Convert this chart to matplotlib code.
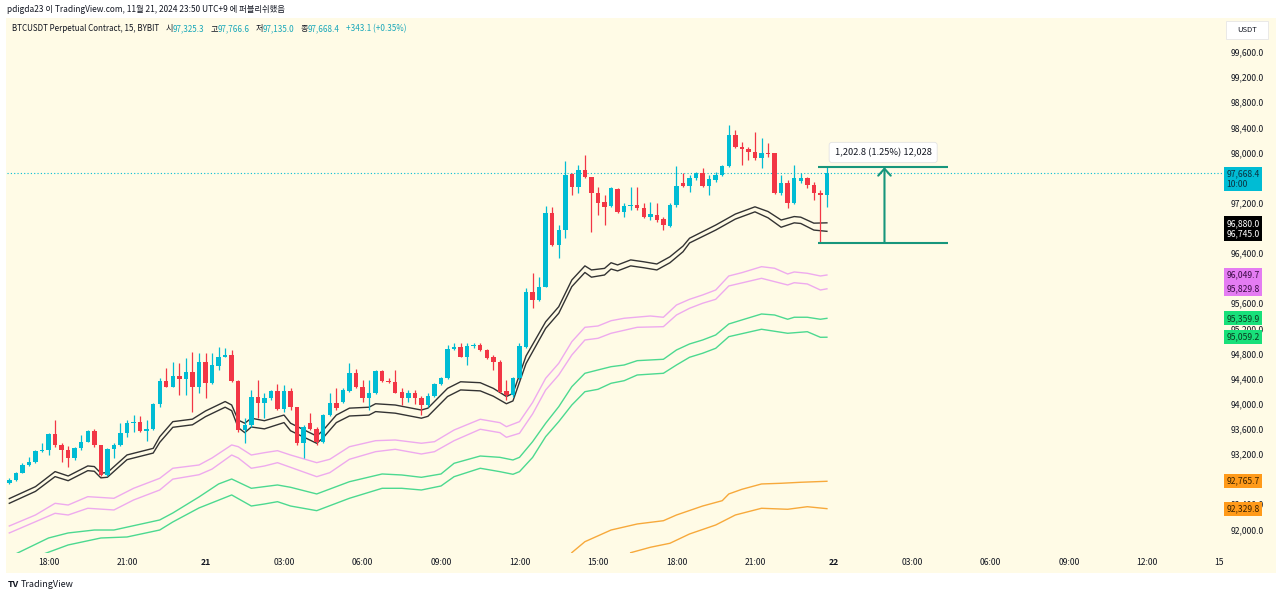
import numpy as np
import matplotlib.pyplot as plt
from matplotlib.patches import Rectangle

plt.rcParams['font.family'] = ['Noto Sans CJK KR', 'DejaVu Sans']

# --- BTCUSDT 15m candles (2024-11-20 16:30 .. 11-21 23:45, UTC+9) ---
opens = [92739, 92786, 92903, 93025, 93078, 93248, 93264, 93514, 93344, 93264,
         93132, 93291, 93396, 93567, 93344, 92866, 93275, 93344, 93530, 93689,
         93715, 93571, 93594, 93996, 94367, 94272, 94442, 94390, 94511, 94272,
         94670, 94335, 94600, 94749, 94776, 94367, 93582, 93662, 94103, 94008,
         94087, 94203, 93912, 94203, 93949, 93375, 93694, 93598, 93391, 93821,
         94012, 94028, 94203, 94490, 94267, 94092, 94171, 94522, 94363, 94347,
         94187, 94092, 94171, 94092, 93980, 94124, 94315, 94410, 94872, 94904,
         94745, 94920, 94936, 94856, 94745, 94665, 94203, 94140, 94410, 94909,
         95784, 95652, 95864, 97032, 96528, 96766, 97658, 97456, 97722, 97605,
         97360, 97217, 97149, 97414, 97058, 97149, 97164, 97112, 96978, 97005,
         96937, 96830, 97164, 97510, 97467, 97590, 97669, 97467, 97562, 97642,
         97785, 98279, 98093, 98051, 98013, 97908, 97997, 97987, 97351, 97510,
         97191, 97551, 97590, 97483, 97351, 97325.3]
highs = [92818, 92919, 93052, 93157, 93264, 93371, 93530, 93742, 93371, 93328,
         93317, 93503, 93582, 93594, 93350, 93291, 93371, 93689, 93742, 93821,
         93805, 93742, 94008, 94405, 94565, 94670, 94644, 94724, 94829, 94804,
         94804, 94804, 94899, 94883, 94856, 94378, 93769, 94219, 94378, 94167,
         94219, 94310, 94299, 94246, 93953, 93662, 93848, 93635, 93837, 94167,
         94246, 94246, 94644, 94549, 94378, 94378, 94538, 94538, 94405, 94538,
         94246, 94219, 94219, 94124, 94167, 94335, 94431, 94936, 94963, 94972,
         94972, 94963, 94963, 94867, 94776, 94697, 94378, 94431, 94963, 95838,
         96087, 96023, 97149, 97137, 96846, 97870, 97669, 97801, 97960, 97615,
         97456, 97324, 97456, 97430, 97191, 97456, 97456, 97191, 97217, 97191,
         96969, 97191, 97785, 97669, 97642, 97695, 97749, 97642, 97695, 97801,
         98438, 98358, 98172, 98093, 98331, 98226, 98147, 97997, 97642, 97562,
         97801, 97669, 97615, 97535, 97403, 97766.6]
lows = [92723, 92775, 92893, 93009, 93062, 93237, 93184, 93317, 93078, 92998,
        93105, 93264, 93390, 93317, 92850, 92850, 93132, 93328, 93476, 93555,
        93555, 93412, 93582, 93953, 94265, 94262, 94140, 94140, 93874, 94167,
        94087, 94320, 94538, 94740, 94351, 93555, 93371, 93635, 93769, 93769,
        94060, 93901, 93874, 93901, 93344, 93132, 93582, 93344, 93380, 93805,
        93901, 94017, 94192, 94246, 94033, 93901, 94155, 94351, 94326, 94167,
        93980, 94033, 93996, 93821, 93953, 94113, 94299, 94390, 94856, 94740,
        94617, 94883, 94845, 94708, 94538, 94167, 94060, 94113, 94378, 94883,
        95520, 95641, 95854, 96512, 96316, 96634, 97324, 97355, 97590, 96739,
        97005, 96846, 97137, 97042, 96978, 97085, 97085, 96962, 96926, 96899,
        96766, 96819, 97137, 97456, 97376, 97562, 97456, 97324, 97535, 97626,
        97774, 98067, 97801, 97881, 97881, 97749, 97933, 97340, 97324, 97112,
        97180, 97510, 97430, 97244, 96563.8, 97135.0]
closes = [92786, 92903, 93025, 93078, 93248, 93264, 93514, 93344, 93264, 93132,
          93291, 93396, 93567, 93344, 92866, 93275, 93344, 93530, 93689, 93715,
          93571, 93594, 93996, 94367, 94272, 94442, 94390, 94511, 94272, 94670,
          94335, 94617, 94749, 94776, 94367, 93582, 93662, 94103, 94008, 94087,
          94203, 93912, 94203, 93949, 93375, 93630, 93598, 93391, 93821, 94012,
          93933, 94219, 94490, 94267, 94092, 94171, 94522, 94363, 94347, 94171,
          94092, 94171, 94092, 93980, 94124, 94315, 94410, 94872, 94904, 94745,
          94920, 94936, 94856, 94729, 94665, 94187, 94140, 94410, 94920, 95784,
          95652, 95864, 97032, 96528, 96766, 97642, 97456, 97722, 97605, 97360,
          97201, 97137, 97430, 97058, 97149, 97164, 97112, 96978, 97021, 96926,
          96846, 97164, 97467, 97467, 97590, 97669, 97467, 97574, 97642, 97785,
          98279, 98093, 98051, 98013, 97908, 97987, 97972, 97351, 97510, 97191,
          97590, 97590, 97483, 97351, 97325.3, 97668.4]

# --- indicator lines (bar index, value) ---
black_idx = [0, 4, 7, 9, 12, 13, 14, 15, 18, 22, 23, 25, 28, 29, 30, 33, 34, 35, 36, 37,
             39, 42, 43, 47, 48, 50, 52, 55, 56, 59, 63, 64, 67, 69, 72, 74, 76, 77, 79, 82,
             84, 86, 88, 89, 91, 92, 93, 95, 97, 99, 101, 103, 104, 108, 111, 114, 116, 118,
             120, 121, 123, 125]
black_up = [92490, 92680, 92920, 92850, 93010, 93000, 92895, 92905, 93185, 93290,
            93475, 93715, 93755, 93820, 93885, 94035, 93980, 93740, 93690, 93770,
            93730, 93820, 93690, 93485, 93580, 93820, 93930, 93945, 94000, 93980,
            93900, 93930, 94245, 94350, 94335, 94245, 94115, 94165, 94760, 95305,
            95545, 95970, 96195, 96130, 96155, 96245, 96210, 96290, 96260, 96225,
            96340, 96510, 96635, 96845, 97020, 97135, 97060, 96925, 96980, 96970,
            96875, 96880.0]
black_lo = [92415, 92605, 92840, 92775, 92935, 92925, 92820, 92830, 93110, 93215,
            93385, 93625, 93665, 93730, 93795, 93945, 93890, 93620, 93540, 93630,
            93600, 93700, 93570, 93370, 93460, 93700, 93805, 93820, 93875, 93850,
            93770, 93800, 94115, 94220, 94205, 94120, 94000, 94045, 94640, 95200,
            95440, 95865, 96090, 96015, 96050, 96145, 96115, 96195, 96165, 96130,
            96245, 96420, 96560, 96765, 96940, 97055, 96960, 96810, 96880, 96870,
            96765, 96745.0]

pink_up_idx = [0, 4, 7, 9, 12, 16, 19, 23, 25, 29, 31, 34, 35, 37, 39, 41, 43, 47, 49, 52,
               56, 59, 63, 65, 68, 72, 75, 76, 78, 80, 82, 84, 86, 88, 90, 92, 94, 98, 100, 102,
               104, 106, 108, 110, 112, 115, 117, 119, 120, 122, 124, 125]
pink_up = [92054, 92229, 92415, 92388, 92521, 92495, 92654, 92813, 92973, 93025,
           93137, 93344, 93317, 93184, 93221, 93253, 93184, 93062, 93116, 93316,
           93412, 93423, 93371, 93396, 93582, 93753, 93699, 93635, 93715, 94020,
           94405, 94644, 94988, 95217, 95238, 95322, 95361, 95397, 95377, 95572,
           95663, 95732, 95811, 96034, 96087, 96182, 96157, 96066, 96098, 96077,
           96034, 96049.7]
pink_lo_idx = [0, 7, 9, 12, 16, 19, 23, 25, 29, 31, 34, 35, 37, 39, 41, 43, 47, 49, 52, 56,
               59, 63, 65, 68, 72, 75, 76, 78, 80, 82, 84, 86, 88, 90, 92, 96, 100, 102, 104, 106,
               108, 110, 115, 119, 120, 122, 124, 125]
pink_lo = [91943, 92256, 92229, 92336, 92309, 92468, 92627, 92800, 92870, 92960,
           93184, 93137, 92973, 93009, 93062, 92988, 92839, 92903, 93116, 93237,
           93275, 93200, 93237, 93412, 93594, 93540, 93466, 93530, 93837, 94219,
           94458, 94776, 95015, 95042, 95122, 95217, 95227, 95413, 95520, 95600,
           95663, 95875, 95997, 95891, 95927, 95907, 95811, 95829.8]

green_up_idx = [0, 6, 9, 13, 16, 23, 25, 29, 32, 34, 37, 41, 43, 47, 52, 57, 60, 63, 66, 68,
                72, 75, 77, 78, 80, 82, 84, 86, 88, 90, 92, 94, 96, 100, 102, 104, 106, 108, 110,
                112, 115, 117, 119, 120, 122, 124, 125]
green_up = [91560, 91863, 91943, 91990, 91990, 92150, 92261, 92516, 92723, 92802,
            92654, 92707, 92670, 92564, 92759, 92882, 92866, 92829, 92882, 93052,
            93168, 93147, 93105, 93147, 93396, 93689, 93953, 94272, 94485, 94538,
            94590, 94617, 94686, 94708, 94856, 94952, 95015, 95095, 95270, 95334,
            95429, 95413, 95345, 95377, 95377, 95345, 95359.9]
green_lo_idx = [4, 9, 14, 18, 23, 25, 29, 34, 37, 39, 41, 43, 47, 52, 57, 60, 63, 66, 68, 72,
                75, 77, 78, 80, 82, 84, 86, 88, 90, 92, 94, 96, 100, 102, 104, 106, 108, 110,
                115, 119, 122, 124, 125]
green_lo = [91560, 91752, 91863, 91879, 91990, 92118, 92341, 92548, 92372, 92404,
            92441, 92372, 92298, 92495, 92654, 92654, 92627, 92691, 92839, 92973,
            92919, 92877, 92919, 93145, 93476, 93715, 93980, 94192, 94230, 94326,
            94367, 94458, 94485, 94617, 94740, 94804, 94883, 95068, 95186, 95122,
            95147, 95058, 95059.2]

orange_up_idx = [86, 88, 92, 96, 100, 102, 106, 109, 110, 112, 115, 118, 121, 125]
orange_up = [91630, 91804, 91990, 92086, 92138, 92229, 92372, 92457, 92564, 92638,
             92723, 92734, 92750, 92765.7]
orange_lo_idx = [95, 98, 101, 104, 108, 111, 115, 119, 122, 125]
orange_lo = [91629, 91715, 91779, 91927, 92070, 92229, 92336, 92320, 92361, 92329.8]

time_pos = [6, 18, 30, 42, 54, 66, 78, 90, 102, 114, 126, 138, 150, 162, 174, 185]
time_labels = ['18:00', '21:00', '21', '03:00', '06:00', '09:00', '12:00', '15:00',
               '18:00', '21:00', '22', '03:00', '06:00', '09:00', '12:00', '15']
price_ticks = list(range(92000, 99601, 400))
# axis labels that sit fully behind the coloured price tags
hidden_ticks = [97600, 96800, 96000, 92800]

meas_hi, meas_lo = 97766.6, 96563.8
meas_volume = '12,028'

# --- colours ---
BG = '#fffbe6'
UP = '#00bcd4'
DOWN = '#f23645'
TXT = '#131722'
MEAS = '#17967c'
FS = 6.2

W, H = 1280, 597
fig = plt.figure(figsize=(W / 100, H / 100), dpi=100)
fig.patch.set_facecolor('white')
fig.patches.append(Rectangle((6 / W, 1 - 573 / H), 1270 / W, 555 / H,
                             transform=fig.transFigure, fc=BG, ec='none', zorder=-5))

ax = fig.add_axes([7 / W, 1 - 553 / H, 1215 / W, 535 / H])
ax.set_facecolor('none')
for s in ax.spines.values():
    s.set_visible(False)

# indicator lines
ax.plot(black_idx, black_up, color='#333333', lw=1.0, zorder=2)
ax.plot(black_idx, black_lo, color='#333333', lw=1.0, zorder=2)
ax.plot(pink_up_idx, pink_up, color='#eeaaee', lw=1.0, zorder=2)
ax.plot(pink_lo_idx, pink_lo, color='#eeaaee', lw=1.0, zorder=2)
ax.plot(green_up_idx, green_up, color='#4cd990', lw=1.0, zorder=2)
ax.plot(green_lo_idx, green_lo, color='#4cd990', lw=1.0, zorder=2)
ax.plot(orange_up_idx, orange_up, color='#f7a93b', lw=1.0, zorder=2)
ax.plot(orange_lo_idx, orange_lo, color='#f7a93b', lw=1.0, zorder=2)

# candles
o = np.array(opens)
c = np.array(closes)
x = np.arange(len(o))
col = np.where(c >= o, UP, DOWN)
ax.vlines(x, lows, highs, colors=col, lw=0.9, zorder=3)
ax.bar(x, np.maximum(np.abs(c - o), 14), bottom=np.minimum(o, c), width=0.68,
       color=col, lw=0, zorder=4)

# last price line
ax.axhline(closes[-1], color=UP, lw=0.8, ls=(0, (1, 2)), zorder=1)

# measure tool
ax.hlines([meas_hi, meas_lo], 123.6, 143.5, color=MEAS, lw=1.5, zorder=6)
ax.annotate('', xy=(133.8, meas_hi), xytext=(133.8, meas_lo),
            arrowprops=dict(arrowstyle='->,head_length=0.5,head_width=0.45',
                            color=MEAS, lw=1.5, shrinkA=0, shrinkB=0), zorder=6)
diff = meas_hi - meas_lo
ax.text(133.6, 98000, f'{diff:,.1f} ({diff / meas_lo * 100:.2f}%) {meas_volume}',
        ha='center', va='center', fontsize=6.7, color=TXT, zorder=7,
        bbox=dict(boxstyle='round,pad=0.6,rounding_size=0.3', fc='white', ec='#e3e3e3', lw=0.6))

ax.set_xlim(-0.35, 185.4)
ax.set_ylim(91624, 100141)
ax.yaxis.tick_right()
ax.set_yticks(price_ticks)
ax.set_yticklabels(['' if v in hidden_ticks else f'{v:,.1f}' for v in price_ticks])
ax.tick_params(axis='y', length=0, pad=6.5, labelsize=FS, labelcolor=TXT)
ax.set_xticks(time_pos)
ax.set_xticklabels(time_labels)
ax.tick_params(axis='x', length=0, pad=3.5, labelsize=FS, labelcolor=TXT)
for lbl in ax.get_xticklabels():
    if lbl.get_text() in ('21', '22'):
        lbl.set_fontweight('bold')


def price_tag(price, text, fc, tc, dy=0):
    ax.annotate(text, xy=(1, price), xycoords=('axes fraction', 'data'),
                xytext=(3.2, dy), textcoords='offset points', ha='left', va='center',
                fontsize=FS, color=tc, linespacing=1.15, annotation_clip=False, zorder=10,
                bbox=dict(boxstyle='square,pad=0.3', fc=fc, ec='none'))


price_tag(closes[-1], f'{closes[-1]:,.1f}\n10:00', UP, '#0b3140', dy=-4.1)
price_tag(black_up[-1], f'{black_up[-1]:,.1f}\n{black_lo[-1]:,.1f}', '#000000', 'white', dy=-4.1)
price_tag(pink_up[-1], f'{pink_up[-1]:,.1f}', '#e47cf2', '#3a0b44')
price_tag(pink_lo[-1], f'{pink_lo[-1]:,.1f}', '#e47cf2', '#3a0b44')
price_tag(green_up[-1], f'{green_up[-1]:,.1f}', '#18e07a', '#0b3a20')
price_tag(green_lo[-1], f'{green_lo[-1]:,.1f}', '#18e07a', '#0b3a20')
price_tag(orange_up[-1], f'{orange_up[-1]:,.1f}', '#ff9a1a', '#3a2200')
price_tag(orange_lo[-1], f'{orange_lo[-1]:,.1f}', '#ff9a1a', '#3a2200')

# currency box
fig.patches.append(Rectangle((1226 / W, 1 - 39 / H), 42 / W, 18 / H, transform=fig.transFigure,
                             fc='white', ec='#e6e6e6', lw=0.6, zorder=5))
fig.text(1247 / W, 1 - 30 / H, 'USDT', ha='center', va='center', fontsize=5.5, color=TXT, zorder=6)

# header lines
fig.text(7 / W, 1 - 12 / H, 'pdigda23 이 TradingView.com, 11월 21, 2024 23:50 UTC+9 에 퍼블리쉬했음',
         fontsize=6, color=TXT, va='baseline')

VAL = '#17a7b9'
chg = closes[-1] - opens[-1]
pieces = [('BTCUSDT Perpetual Contract, 15, BYBIT', TXT, 6),
          ('시', TXT, 0), (f'{opens[-1]:,.1f}', VAL, 6),
          ('고', TXT, 0), (f'{highs[-1]:,.1f}', VAL, 6),
          ('저', TXT, 0), (f'{lows[-1]:,.1f}', VAL, 6),
          ('종', TXT, 0), (f'{closes[-1]:,.1f}', VAL, 6),
          (f'+{chg:,.1f} (+{chg / opens[-1] * 100:.2f}%)', VAL, 0)]
renderer = fig.canvas.get_renderer()
xp = 12
for s, color, gap in pieces:
    t = fig.text(xp / W, 1 - 31 / H, s, fontsize=5.8, color=color, va='baseline')
    xp += t.get_window_extent(renderer=renderer).width + gap

# footer logo
fig.text(8 / W, 1 - 587 / H, 'TV', fontsize=6.5, fontweight='heavy', color=TXT, va='baseline')
fig.text(21 / W, 1 - 587 / H, 'TradingView', fontsize=6.5, color=TXT, va='baseline')

fig.savefig('out.png', dpi=100)
